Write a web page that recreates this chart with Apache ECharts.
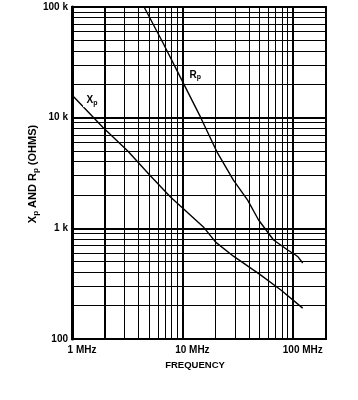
<!DOCTYPE html>
<html><head><meta charset="utf-8">
<script src="https://cdn.jsdelivr.net/npm/echarts@6/dist/echarts.min.js"></script>
<style>html,body{margin:0;padding:0;background:#fff}#c{width:358px;height:400px}</style>
</head><body><div id="c"></div>
<script>
// Data (frequency in MHz, impedance in ohms)
const xpFreq = [1.0, 1.9, 3.2, 5.1, 7.8, 15.5, 20, 29, 51, 78, 123];
const xpVal  = [16000, 8200, 5000, 3000, 1920, 1030, 750, 560, 380, 277, 190];
const rpFreq = [4.5, 6.7, 10.2, 14.6, 20.8, 29, 39, 49, 67, 90, 106, 112, 123];
const rpVal  = [100000, 47000, 20500, 10100, 4800, 2730, 1800, 1190, 784, 637, 574, 550, 486];
const xTickLabels = {1: '1 MHz', 10: '10 MHz', 100: '100 MHz'};
const yTickLabels = {100: '100', 1000: '1 k', 10000: '10 k', 100000: '100 k'};
const xMajorGrid = [1, 2, 10, 100];
const xMinorGrid = [3,4,5,6,7,8,9,20,30,40,50,60,70,80,90];
const yMajorGrid = [1000, 10000];
const yMinorGrid = [200,300,400,500,600,700,800,900,2000,3000,4000,5000,6000,7000,8000,9000,20000,30000,40000,50000,60000,70000,80000,90000];
const xpLabelPos = [1.52, 14400];
const rpLabelPos = [13.1, 24300];

const FONT = '"Liberation Sans", Arial, sans-serif';
const chart = echarts.init(document.getElementById('c'), null, {renderer: 'canvas'});

const gridLines = [];
xMajorGrid.forEach(v => gridLines.push({xAxis: v, lineStyle: {width: 2}}));
xMinorGrid.forEach(v => gridLines.push({xAxis: v, lineStyle: {width: 1}}));
yMajorGrid.forEach(v => gridLines.push({yAxis: v, lineStyle: {width: 2}}));
yMinorGrid.forEach(v => gridLines.push({yAxis: v, lineStyle: {width: 1}}));

const subLabel = (fs) => ({
  a: {fontFamily: FONT, fontWeight: 'bold', fontSize: fs, color: '#000'},
  s: {fontFamily: FONT, fontWeight: 'bold', fontSize: fs - 3, color: '#000', padding: [5, 0, 0, 0]}
});

chart.setOption({
  animation: false,
  backgroundColor: '#fff',
  grid: {left: 72, right: 32, top: 7, bottom: 61, show: true, borderColor: '#000', borderWidth: 2, backgroundColor: 'transparent'},
  graphic: [{
    type: 'text', x: 33, y: 174, rotation: Math.PI / 2, silent: true,
    style: {
      text: '{a|X}{s|p}{a| AND R}{s|p}{a| (OHMS)}',
      rich: subLabel(11), align: 'center', verticalAlign: 'middle'
    }
  }],
  xAxis: {
    type: 'log', logBase: 10, min: 1, max: 200,
    name: 'FREQUENCY', nameLocation: 'middle', nameGap: 21,
    nameTextStyle: {fontFamily: FONT, fontWeight: 'bold', fontSize: 9.5, color: '#000', padding: [0, 0, 0, -8]},
    axisLine: {lineStyle: {color: '#000', width: 2}},
    axisTick: {show: false},
    splitLine: {show: false},
    axisLabel: {
      fontFamily: FONT, fontWeight: 'bold', fontSize: 10, color: '#000', margin: 6,
      padding: [0, 0, 0, 20],
      formatter: v => xTickLabels[Math.round(v)] || ''
    }
  },
  yAxis: {
    type: 'log', logBase: 10, min: 100, max: 100000,
    axisLine: {lineStyle: {color: '#000', width: 3}},
    axisTick: {show: false},
    splitLine: {show: false},
    axisLabel: {
      fontFamily: FONT, fontWeight: 'bold', fontSize: 10, color: '#000', margin: 4,
      formatter: v => yTickLabels[Math.round(v)] || ''
    }
  },
  series: [
    {
      type: 'line', data: [], silent: true,
      markLine: {
        silent: true, symbol: 'none', animation: false,
        label: {show: false},
        lineStyle: {color: '#000', type: 'solid'},
        data: gridLines
      }
    },
    {
      name: 'Xp', type: 'line', showSymbol: false, symbol: 'none',
      lineStyle: {color: '#000', width: 1.4},
      data: xpFreq.map((f, i) => [f, xpVal[i]]),
      markPoint: {
        symbol: 'rect', symbolSize: [18, 14], itemStyle: {color: '#fff'},
        label: {show: true, formatter: '{a|X}{s|p}', rich: subLabel(10)},
        data: [{coord: xpLabelPos}]
      }
    },
    {
      name: 'Rp', type: 'line', showSymbol: false, symbol: 'none',
      lineStyle: {color: '#000', width: 1.4},
      data: rpFreq.map((f, i) => [f, rpVal[i]]),
      markPoint: {
        symbol: 'rect', symbolSize: [18, 14], itemStyle: {color: '#fff'},
        label: {show: true, formatter: '{a|R}{s|p}', rich: subLabel(10)},
        data: [{coord: rpLabelPos}]
      }
    }
  ]
});
</script></body></html>
